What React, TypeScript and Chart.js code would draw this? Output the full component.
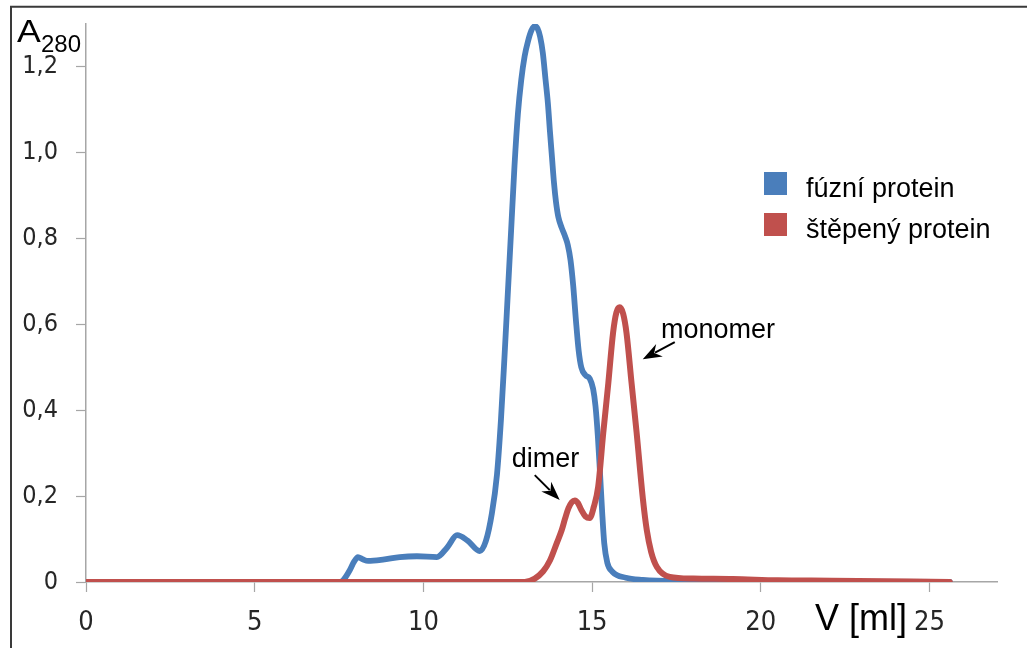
import React, { useEffect, useRef } from 'react';
import { Chart, registerables } from 'chart.js';

Chart.register(...registerables);

// ---- data (elution volume in ml, absorbance A280) ----
const fusionVolume = [0, 7.5, 7.62, 7.8, 7.95, 8.06, 8.2, 8.36, 8.8, 9.3, 9.81, 10.4, 10.7, 11.0, 11.3, 11.67, 11.85, 12.03, 12.18, 12.3, 12.4, 12.5, 12.6, 12.7, 12.8, 12.9, 13.0, 13.1, 13.2, 13.3, 13.38, 13.46, 13.54, 13.62, 13.69, 13.75, 13.81, 13.87, 13.93, 14.0, 14.1, 14.2, 14.28, 14.36, 14.44, 14.52, 14.6, 14.68, 14.8, 14.93, 15.03, 15.1, 15.17, 15.23, 15.3, 15.36, 15.45, 15.6, 16.0, 16.5, 17.5, 20.0, 25.6];
const fusionA280 = [0, 0, 0.004, 0.025, 0.048, 0.058, 0.053, 0.049, 0.052, 0.058, 0.06, 0.058, 0.08, 0.109, 0.097, 0.072, 0.095, 0.16, 0.25, 0.38, 0.52, 0.67, 0.82, 0.97, 1.09, 1.17, 1.225, 1.26, 1.285, 1.295, 1.29, 1.27, 1.232, 1.17, 1.115, 1.05, 0.99, 0.93, 0.885, 0.85, 0.825, 0.805, 0.785, 0.75, 0.69, 0.61, 0.54, 0.5, 0.482, 0.474, 0.45, 0.41, 0.34, 0.26, 0.16, 0.09, 0.045, 0.024, 0.01, 0.005, 0.002, 0.001, 0];

const cleavedVolume = [0, 13.0, 13.3, 13.55, 13.75, 13.95, 14.1, 14.2, 14.3, 14.4, 14.49, 14.58, 14.68, 14.8, 14.93, 15.05, 15.18, 15.33, 15.48, 15.62, 15.72, 15.82, 15.92, 16.02, 16.17, 16.32, 16.51, 16.62, 16.75, 16.92, 17.3, 18.0, 19.17, 20.5, 22.1, 25.6];
const cleavedA280 = [0, 0, 0.008, 0.025, 0.05, 0.09, 0.121, 0.148, 0.172, 0.186, 0.19, 0.184, 0.168, 0.153, 0.149, 0.175, 0.222, 0.347, 0.463, 0.58, 0.628, 0.64, 0.625, 0.58, 0.463, 0.347, 0.19, 0.121, 0.07, 0.035, 0.012, 0.008, 0.007, 0.004, 0.003, 0];

const seriesNames = ['fúzní protein', 'štěpený protein'];
const seriesColors = ['#4a7ebb', '#c0504d'];

const xTickValues = [0, 5, 10, 15, 20, 25];
const xTickLabels = ['0', '5', '10', '15', '20', '25'];
const yTickValues = [0, 0.2, 0.4, 0.6, 0.8, 1.0, 1.2];
const yTickLabels = ['0', '0,2', '0,4', '0,6', '0,8', '1,0', '1,2'];

const xAxisTitle = 'V [ml]';
const yAxisTitleMain = 'A';
const yAxisTitleSub = '280';

// annotation texts with arrow (data coordinates)
const annotationTexts = ['monomer', 'dimer'];
const annotationTextAt = [[17.04, 0.568], [12.62, 0.268]];
const annotationArrowFrom = [[17.45, 0.559], [13.3, 0.249]];
const annotationArrowTo = [[16.5, 0.519], [14.04, 0.191]];

const TICK_FONT = '"Liberation Sans Narrow", "DejaVu Sans Condensed", "Liberation Sans", sans-serif';
const TEXT_FONT = '"Liberation Sans", Arial, sans-serif';

function drawArrow(ctx: CanvasRenderingContext2D, x0: number, y0: number, x1: number, y1: number) {
  const ang = Math.atan2(y1 - y0, x1 - x0);
  const headLen = 19;
  const headW = 7;
  const bx = x1 - headLen * Math.cos(ang);
  const by = y1 - headLen * Math.sin(ang);
  ctx.save();
  ctx.strokeStyle = '#000';
  ctx.fillStyle = '#000';
  ctx.lineWidth = 2;
  ctx.beginPath();
  ctx.moveTo(x0, y0);
  ctx.lineTo(bx + 5 * Math.cos(ang), by + 5 * Math.sin(ang));
  ctx.stroke();
  const px = -Math.sin(ang);
  const py = Math.cos(ang);
  ctx.beginPath();
  ctx.moveTo(x1, y1);
  ctx.lineTo(bx + px * headW, by + py * headW);
  ctx.lineTo(bx + 6 * Math.cos(ang), by + 6 * Math.sin(ang));
  ctx.lineTo(bx - px * headW, by - py * headW);
  ctx.closePath();
  ctx.fill();
  ctx.restore();
}

const decorPlugin = {
  id: 'decor',
  afterDraw(chart: any) {
    const ctx: CanvasRenderingContext2D = chart.ctx;
    const xs = chart.scales.x;
    const ys = chart.scales.y;
    ctx.save();
    // outer frame (top and left)
    ctx.strokeStyle = '#3a3a3a';
    ctx.lineWidth = 2;
    ctx.beginPath();
    ctx.moveTo(11, chart.height);
    ctx.lineTo(11, 6.8);
    ctx.lineTo(chart.width, 6.8);
    ctx.stroke();

    // y axis title A280
    ctx.fillStyle = '#000';
    ctx.textBaseline = 'alphabetic';
    ctx.textAlign = 'left';
    ctx.save();
    ctx.translate(17, 42);
    ctx.scale(1.15, 1);
    ctx.font = `31px ${TEXT_FONT}`;
    ctx.fillText(yAxisTitleMain, 0, 0);
    ctx.restore();
    ctx.font = `24px ${TEXT_FONT}`;
    ctx.fillText(yAxisTitleSub, 41, 52);

    // x axis title
    ctx.font = `36px ${TEXT_FONT}`;
    ctx.fillText(xAxisTitle, 815, 630);

    // legend
    const ds = chart.data.datasets;
    const legendOrder = [1, 0];
    legendOrder.forEach((di: number, i: number) => {
      const d = ds[di];
      const top = 172 + i * 41;
      ctx.fillStyle = d.borderColor;
      ctx.fillRect(764, top, 23, 23);
      ctx.fillStyle = '#000';
      ctx.font = `27px ${TEXT_FONT}`;
      ctx.fillText(d.label, 806, top + 25);
    });

    // annotations
    annotationTexts.forEach((t, i) => {
      ctx.fillStyle = '#000';
      ctx.font = `27px ${TEXT_FONT}`;
      ctx.fillText(t, xs.getPixelForValue(annotationTextAt[i][0]), ys.getPixelForValue(annotationTextAt[i][1]));
      drawArrow(
        ctx,
        xs.getPixelForValue(annotationArrowFrom[i][0]),
        ys.getPixelForValue(annotationArrowFrom[i][1]),
        xs.getPixelForValue(annotationArrowTo[i][0]),
        ys.getPixelForValue(annotationArrowTo[i][1])
      );
    });
    ctx.restore();
  },
};

export default function App() {
  const canvasRef = useRef<HTMLCanvasElement | null>(null);

  useEffect(() => {
    if (!canvasRef.current) return;
    const chart = new Chart(canvasRef.current, {
      type: 'line',
      data: {
        datasets: [
          {
            label: seriesNames[1],
            data: cleavedVolume.map((v, i) => ({ x: v, y: cleavedA280[i] })),
            borderColor: seriesColors[1],
            backgroundColor: seriesColors[1],
            borderWidth: 6,
            cubicInterpolationMode: 'monotone',
            pointRadius: 0,
            fill: false,
            borderCapStyle: 'round',
            borderJoinStyle: 'round',
            order: 0,
          },
          {
            label: seriesNames[0],
            data: fusionVolume.map((v, i) => ({ x: v, y: fusionA280[i] })),
            borderColor: seriesColors[0],
            backgroundColor: seriesColors[0],
            borderWidth: 5.8,
            cubicInterpolationMode: 'monotone',
            pointRadius: 0,
            fill: false,
            borderCapStyle: 'round',
            borderJoinStyle: 'round',
            order: 1,
          },
        ],
      },
      options: {
        animation: false,
        responsive: false,
        maintainAspectRatio: false,
        layout: { padding: { left: 0, right: 30, top: 24, bottom: 0 } },
        plugins: { legend: { display: false }, tooltip: { enabled: false } },
        scales: {
          x: {
            type: 'linear',
            min: 0,
            max: 27,
            afterBuildTicks: (s: any) => {
              s.ticks = xTickValues.map((v) => ({ value: v }));
            },
            afterFit: (s: any) => {
              s.height = 66;
              s.paddingLeft = 0;
              s.paddingRight = 0;
            },
            grid: { drawOnChartArea: false, drawTicks: true, tickLength: 10, tickColor: '#a6a6a6', tickWidth: 1.2 },
            border: { display: true, color: '#a6a6a6', width: 1.5 },
            ticks: {
              padding: 15,
              color: '#262626',
              font: { family: TICK_FONT, size: 27 },
              maxRotation: 0,
              autoSkip: false,
              callback: (_v: any, i: number) => xTickLabels[i],
            },
          },
          y: {
            type: 'linear',
            min: 0,
            max: 1.3,
            afterBuildTicks: (s: any) => {
              s.ticks = yTickValues.map((v) => ({ value: v }));
            },
            afterFit: (s: any) => {
              s.width = 86;
              s.paddingTop = 0;
              s.paddingBottom = 0;
            },
            grid: { drawOnChartArea: false, drawTicks: true, tickLength: 10, tickColor: '#a6a6a6', tickWidth: 1.2 },
            border: { display: true, color: '#a6a6a6', width: 1.5 },
            ticks: {
              padding: 18,
              color: '#262626',
              font: { family: TICK_FONT, size: 25 },
              autoSkip: false,
              callback: (_v: any, i: number) => yTickLabels[i],
            },
          },
        },
      },
      plugins: [decorPlugin],
    } as any);
    return () => chart.destroy();
  }, []);

  return (
    <div style={{ position: 'absolute', left: 0, top: 0, width: 1027, height: 648, background: '#fff' }}>
      <canvas ref={canvasRef} width={1027} height={648} style={{ display: 'block' }} />
    </div>
  );
}
